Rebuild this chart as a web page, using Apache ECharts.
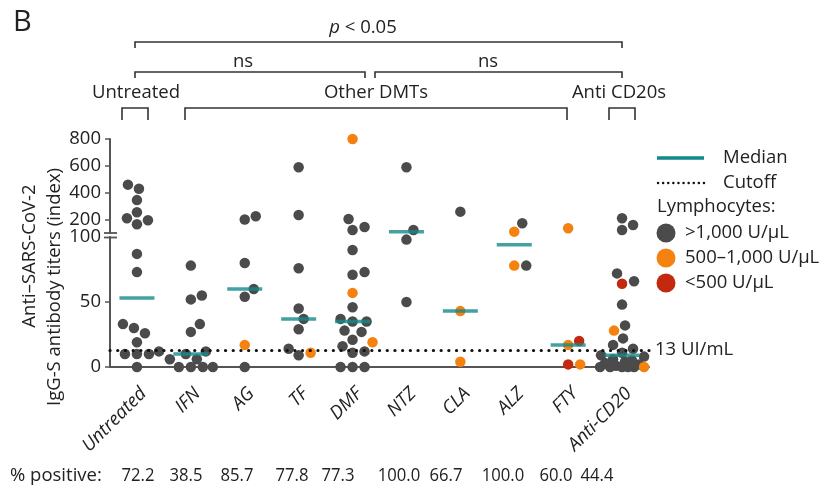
<!DOCTYPE html>
<html>
<head>
<meta charset="utf-8">
<script src="https://cdn.jsdelivr.net/npm/echarts@6/dist/echarts.min.js"></script>
<style>
  html, body { margin: 0; padding: 0; background: #fff; }
  #chart { width: 821px; height: 489px; }
</style>
</head>
<body>
<div id="chart"></div>
<script>
  // groups on the x axis
  const categories = ['Untreated', 'IFN', 'AG', 'TF', 'DMF', 'NTZ', 'CLA', 'ALZ', 'FTY', 'Anti-CD20'];

  // [titer index, lymphocyte class] ; class 0 = >1,000, 1 = 500-1,000, 2 = <500 U/uL
  const untreated = [[460,0],[430,0],[345,0],[255,0],[210,0],[195,0],[165,0],[87,0],[73,0],[33,0],[30,0],[26,0],[19,0],[12,0],[10,0],[10,0],[10,0],[0,0]];
  const ifn = [[78,0],[55,0],[52,0],[33,0],[27,0],[12,0],[10,0],[6,0],[6,0],[0,0],[0,0],[0,0],[0,0]];
  const ag = [[225,0],[200,0],[80,0],[60,0],[54,0],[17,1],[0,0]];
  const tf = [[590,0],[234,0],[76,0],[45,0],[37,0],[29,0],[14,0],[11,1],[9,0]];
  const dmf = [[800,1],[204,0],[145,0],[122,0],[90,0],[73,0],[71,0],[57,1],[46,0],[37,0],[35,0],[35,0],[28,0],[27,0],[21,0],[19,1],[16,0],[12,0],[11,0],[0,0],[0,0],[0,0]];
  const ntz = [[590,0],[122,0],[98,0],[50,0]];
  const cla = [[259,0],[43,1],[4,1]];
  const alz = [[172,0],[110,1],[78,1],[78,0]];
  const fty = [[135,1],[20,2],[17,1],[2,2],[2,1]];
  const antiCd20 = [[210,0],[160,0],[122,0],[72,0],[66,0],[64,2],[48,0],[32,0],[28,1],[22,0],[17,0],[14,0],[11,0],[9,0],[8,0],[6,0],[5,0],[4,0],[3,0],[2,0],[1,0],[0,0],[0,0],[0,0],[0,1],[0,0],[0,0]];
  const groups = [untreated, ifn, ag, tf, dmf, ntz, cla, alz, fty, antiCd20];

  const pctPositive = ['72.2', '38.5', '85.7', '77.8', '77.3', '100.0', '66.7', '100.0', '60.0', '44.4'];
  const cutoff = 13;
  const upperTicks = [200, 400, 600, 800];
  const lowerTicks = [0, 50, 100];

  const lymColors = ['#4b4b4b', '#f5820f', '#c2290f'];
  const lymLabels = ['>1,000 U/\u03bcL', '500\u20131,000 U/\u03bcL', '<500 U/\u03bcL'];
  const teal = '#14898b';
  const textColor = '#222';
  const axisColor = '#555';
  const font = "'Open Sans', 'Noto Sans', sans-serif";
  const fs = 18.5;

  // layout of the broken axis: upper part 100-800, lower part 0-100
  const G = { left: 110, right: 172, upTop: 139, upH: 94, loTop: 237, loH: 130 };
  const band = (821 - G.left - G.right) / categories.length;

  function yPix(v) {
    return v > 100 ? G.upTop + G.upH * (800 - v) / 700 : G.loTop + G.loH * (100 - v) / 100;
  }

  // simple beeswarm so the dots don't sit on top of each other
  function swarm(vals) {
    const D = 11.5, maxOff = 22;
    const placed = [];
    const dx = new Array(vals.length);
    const order = vals.map((v, i) => i).sort((a, b) => vals[a] - vals[b]);
    order.forEach(i => {
      const y = yPix(vals[i]);
      let best = 0, bestScore = -1;
      for (let k = 0; k <= maxOff * 2; k++) {
        const off = (k % 2 ? 1 : -1) * Math.ceil(k / 2);
        let minD = Infinity;
        placed.forEach(p => { minD = Math.min(minD, Math.hypot(p.x - off, p.y - y)); });
        if (minD >= D) { best = off; bestScore = Infinity; break; }
        if (minD > bestScore + 0.5) { bestScore = minD; best = off; }
      }
      placed.push({ x: best, y: y });
      dx[i] = best / band;
    });
    return dx;
  }

  function median(vals) {
    const s = vals.slice().sort((a, b) => a - b);
    const n = s.length;
    return n % 2 ? s[(n - 1) / 2] : (s[n / 2 - 1] + s[n / 2]) / 2;
  }

  // points split per grid (upper / lower) and per lymphocyte class
  const pts = [[[], [], []], [[], [], []]];
  const medians = [[], []];
  groups.forEach((g, ci) => {
    const vals = g.map(p => p[0]);
    const dx = swarm(vals);
    g.forEach((p, j) => {
      const gi = p[0] > 100 ? 0 : 1;
      pts[gi][p[1]].push([ci + dx[j], p[0]]);
    });
    const m = median(vals);
    medians[m > 100 ? 0 : 1].push([ci, m]);
  });

  const series = [];
  [0, 1].forEach(gi => {
    [0, 1, 2].forEach(c => {
      series.push({
        type: 'scatter',
        xAxisIndex: gi + 2,
        yAxisIndex: gi,
        data: pts[gi][c],
        symbolSize: 10.5,
        itemStyle: { color: lymColors[c], opacity: 1 },
        z: 3
      });
    });
    const med = {
      type: 'scatter',
      xAxisIndex: gi + 2,
      yAxisIndex: gi,
      data: medians[gi],
      symbol: 'rect',
      symbolSize: [35, 3.5],
      itemStyle: { color: teal },
      z: 4
    };
    if (gi === 1) {
      med.markLine = {
        silent: true,
        symbol: 'none',
        data: [{ yAxis: cutoff }],
        lineStyle: { color: '#111', type: [0.1, 7.6], width: 3.2, cap: 'round' },
        label: { position: 'end', formatter: cutoff + ' UI/mL', fontSize: fs, color: textColor, fontFamily: font, distance: 6 }
      };
    }
    series.push(med);
  });

  function bracket(x1, x2, y, drop) {
    return {
      type: 'polyline',
      shape: { points: [[x1, y + drop], [x1, y], [x2, y], [x2, y + drop]] },
      style: { stroke: '#333', lineWidth: 1.6, fill: null }
    };
  }
  function label(text, x, y, opt, el) {
    return Object.assign({
      type: 'text', x: x, y: y,
      style: Object.assign({ text: text, fill: textColor, font: fs + 'px ' + font, textAlign: 'center', textVerticalAlign: 'middle' }, opt || {})
    }, el || {});
  }

  const graphics = [
    label('B', 13, 23, { font: '29px ' + font, textAlign: 'left' }),
    {
      type: 'text', x: 363, y: 28,
      style: {
        text: '{i|p} < 0.05', fill: textColor, font: fs + 'px ' + font, textAlign: 'center', textVerticalAlign: 'middle',
        rich: { i: { fontStyle: 'italic', fontSize: fs, fontFamily: font } }
      }
    },
    bracket(135, 622, 42, 6),
    label('ns', 243, 62),
    label('ns', 488, 62),
    bracket(135, 365, 72, 6),
    bracket(375, 622, 72, 6),
    label('Untreated', 136, 93),
    label('Other DMTs', 376, 93),
    label('Anti CD20s', 619, 93),
    bracket(122, 148, 108, 12),
    bracket(185, 567, 108, 12),
    bracket(609, 635, 108, 12),
    // y axis title
    label('Anti\u2013SARS-CoV-2', 30, 256, null, { rotation: Math.PI / 2 }),
    label('IgG-S antibody titers (index)', 55, 287, null, { rotation: Math.PI / 2 }),
    // axis break mark
    { type: 'line', shape: { x1: 104, y1: 233, x2: 117, y2: 233 }, style: { stroke: axisColor, lineWidth: 1.8 } },
    { type: 'line', shape: { x1: 104, y1: 237.5, x2: 117, y2: 237.5 }, style: { stroke: axisColor, lineWidth: 1.8 } },
    // legend
    { type: 'line', shape: { x1: 657, y1: 158, x2: 704, y2: 158 }, style: { stroke: teal, lineWidth: 3.5 } },
    label('Median', 723, 158, { textAlign: 'left' }),
    { type: 'line', shape: { x1: 658, y1: 183, x2: 704, y2: 183 }, style: { stroke: '#111', lineWidth: 2.4, lineDash: [0.1, 5], lineCap: 'round' } },
    label('Cutoff', 723, 183, { textAlign: 'left' }),
    label('Lymphocytes:', 657, 207, { textAlign: 'left' }),
    // % positive row
    label('% positive:', 10, 476, { textAlign: 'left' })
  ];
  lymColors.forEach((c, i) => {
    graphics.push({ type: 'circle', shape: { cx: 666, cy: 233 + i * 25, r: 9.5 }, style: { fill: c } });
    graphics.push(label(lymLabels[i], 685, 233 + i * 25, { textAlign: 'left' }));
  });
  const pctX = [138, 186, 237, 292, 338, 399, 446, 503, 556, 597];
  pctPositive.forEach((t, i) => {
    graphics.push(label(t, pctX[i], 476, null, { scaleX: 0.9 }));
  });

  const chart = echarts.init(document.getElementById('chart'));
  chart.setOption({
    animation: false,
    backgroundColor: '#fff',
    textStyle: { fontFamily: font },
    grid: [
      { left: G.left, right: G.right, top: G.upTop, height: G.upH },
      { left: G.left, right: G.right, top: G.loTop, height: G.loH }
    ],
    xAxis: [
      { type: 'category', gridIndex: 0, data: categories, show: false },
      {
        type: 'category', gridIndex: 1, data: categories,
        axisLine: { onZero: false, lineStyle: { color: axisColor, width: 2 } },
        axisTick: { alignWithLabel: true, length: 5, lineStyle: { color: axisColor, width: 1.5 } },
        axisLabel: { rotate: 45, fontSize: fs, fontStyle: 'italic', color: textColor, margin: 17, interval: 0, verticalAlign: 'top' }
      },
      { type: 'value', gridIndex: 0, min: -0.5, max: categories.length - 0.5, show: false },
      { type: 'value', gridIndex: 1, min: -0.5, max: categories.length - 0.5, show: false }
    ],
    yAxis: [
      {
        type: 'value', gridIndex: 0, min: 100, max: 800, interval: 100,
        splitLine: { show: false },
        axisLine: { show: true, onZero: false, lineStyle: { color: axisColor, width: 2 } },
        axisTick: { show: true, length: 5, customValues: upperTicks, lineStyle: { color: axisColor, width: 1.5 } },
        axisLabel: {
          fontSize: fs, color: textColor, margin: 9, customValues: upperTicks,
          formatter: v => upperTicks.indexOf(v) >= 0 ? String(v) : ''
        }
      },
      {
        type: 'value', gridIndex: 1, min: 0, max: 100, interval: 50,
        splitLine: { show: false },
        axisLine: { show: true, onZero: false, lineStyle: { color: axisColor, width: 2 } },
        axisTick: { show: true, length: 5, customValues: [0, 50], lineStyle: { color: axisColor, width: 1.5 } },
        axisLabel: {
          fontSize: fs, color: textColor, margin: 9, customValues: lowerTicks, showMaxLabel: true,
          formatter: v => lowerTicks.indexOf(v) >= 0 ? String(v) : ''
        }
      }
    ],
    series: series,
    graphic: graphics
  });
</script>
</body>
</html>
